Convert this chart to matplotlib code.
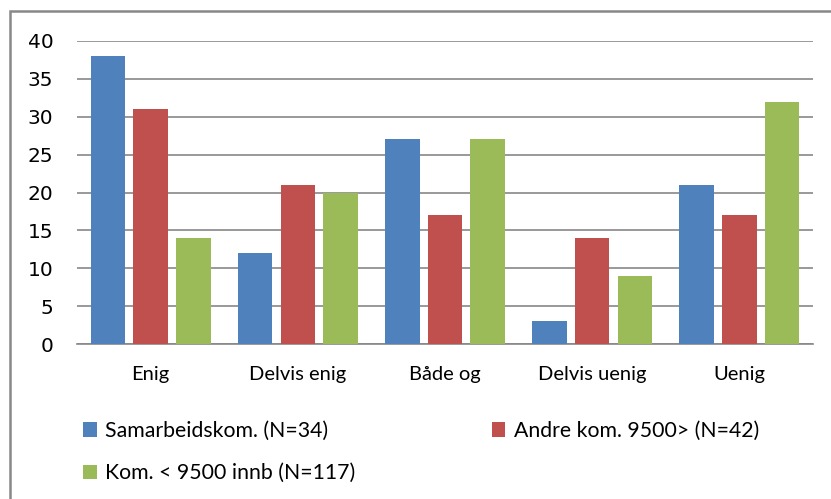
import matplotlib.pyplot as plt
import numpy as np
from matplotlib.patches import Rectangle

# svarkategorier og andel per gruppe
kategorier = ["Enig", "Delvis enig", "Både og", "Delvis uenig", "Uenig"]
samarbeid = [38, 12, 27, 3, 21]
andre = [31, 21, 17, 14, 17]
sma_kom = [14, 20, 27, 9, 32]

serier = ["Samarbeidskom. (N=34)", "Andre kom. 9500> (N=42)", "Kom. < 9500 innb (N=117)"]
farger = ["#4F81BD", "#C0504D", "#9BBB59"]
grid_farge = "#878787"

plt.rcParams["font.family"] = ["Lato", "DejaVu Sans"]

fig = plt.figure(figsize=(8.31, 4.99), dpi=100)
ax = fig.add_axes([77 / 831, 1 - 344 / 499, 736 / 831, 303 / 499])

x = np.arange(len(kategorier))
steg, bredde = 0.29, 0.235
bars = []
for i, (verdier, farge) in enumerate(zip([samarbeid, andre, sma_kom], farger)):
    b = ax.bar(x + (i - 1) * steg, verdier, bredde, color=farge, label=serier[i], zorder=3)
    bars.append(b)

ax.set_xlim(-0.5, len(kategorier) - 0.5)
ax.set_ylim(0, 40)
ax.set_yticks(range(0, 41, 5))
ax.set_xticks(x, kategorier)
ax.yaxis.grid(True, color=grid_farge, linewidth=1.2, zorder=0)
for side in ["left", "right", "top"]:
    ax.spines[side].set_visible(False)
ax.spines["bottom"].set_color(grid_farge)
ax.spines["bottom"].set_linewidth(1.2)
ax.tick_params(axis="both", length=0, labelsize=14.5, colors="black")
ax.tick_params(axis="y", pad=17)
ax.tick_params(axis="x", pad=16)
for t in ax.get_yticklabels():
    t.set_fontfamily("DejaVu Sans")

# forklaring under diagrammet, to kolonner
leg = fig.legend([bars[0], bars[2], bars[1]], [serier[0], serier[2], serier[1]],
                 ncol=2, loc="upper left", bbox_to_anchor=(83 / 831, 1 - 421 / 499),
                 frameon=False, fontsize=15.3, handlelength=0.65, handleheight=0.65,
                 handletextpad=0.4, labelspacing=1.05, columnspacing=6.4,
                 borderpad=0, borderaxespad=0)

# ramme rundt diagramområdet
fig.patches.append(Rectangle((10 / 831, -0.1), 1.1, 1 - 11 / 499 + 0.1,
                             transform=fig.transFigure, fill=False,
                             edgecolor="#888888", linewidth=1.8))

fig.savefig("out.png", dpi=100)
